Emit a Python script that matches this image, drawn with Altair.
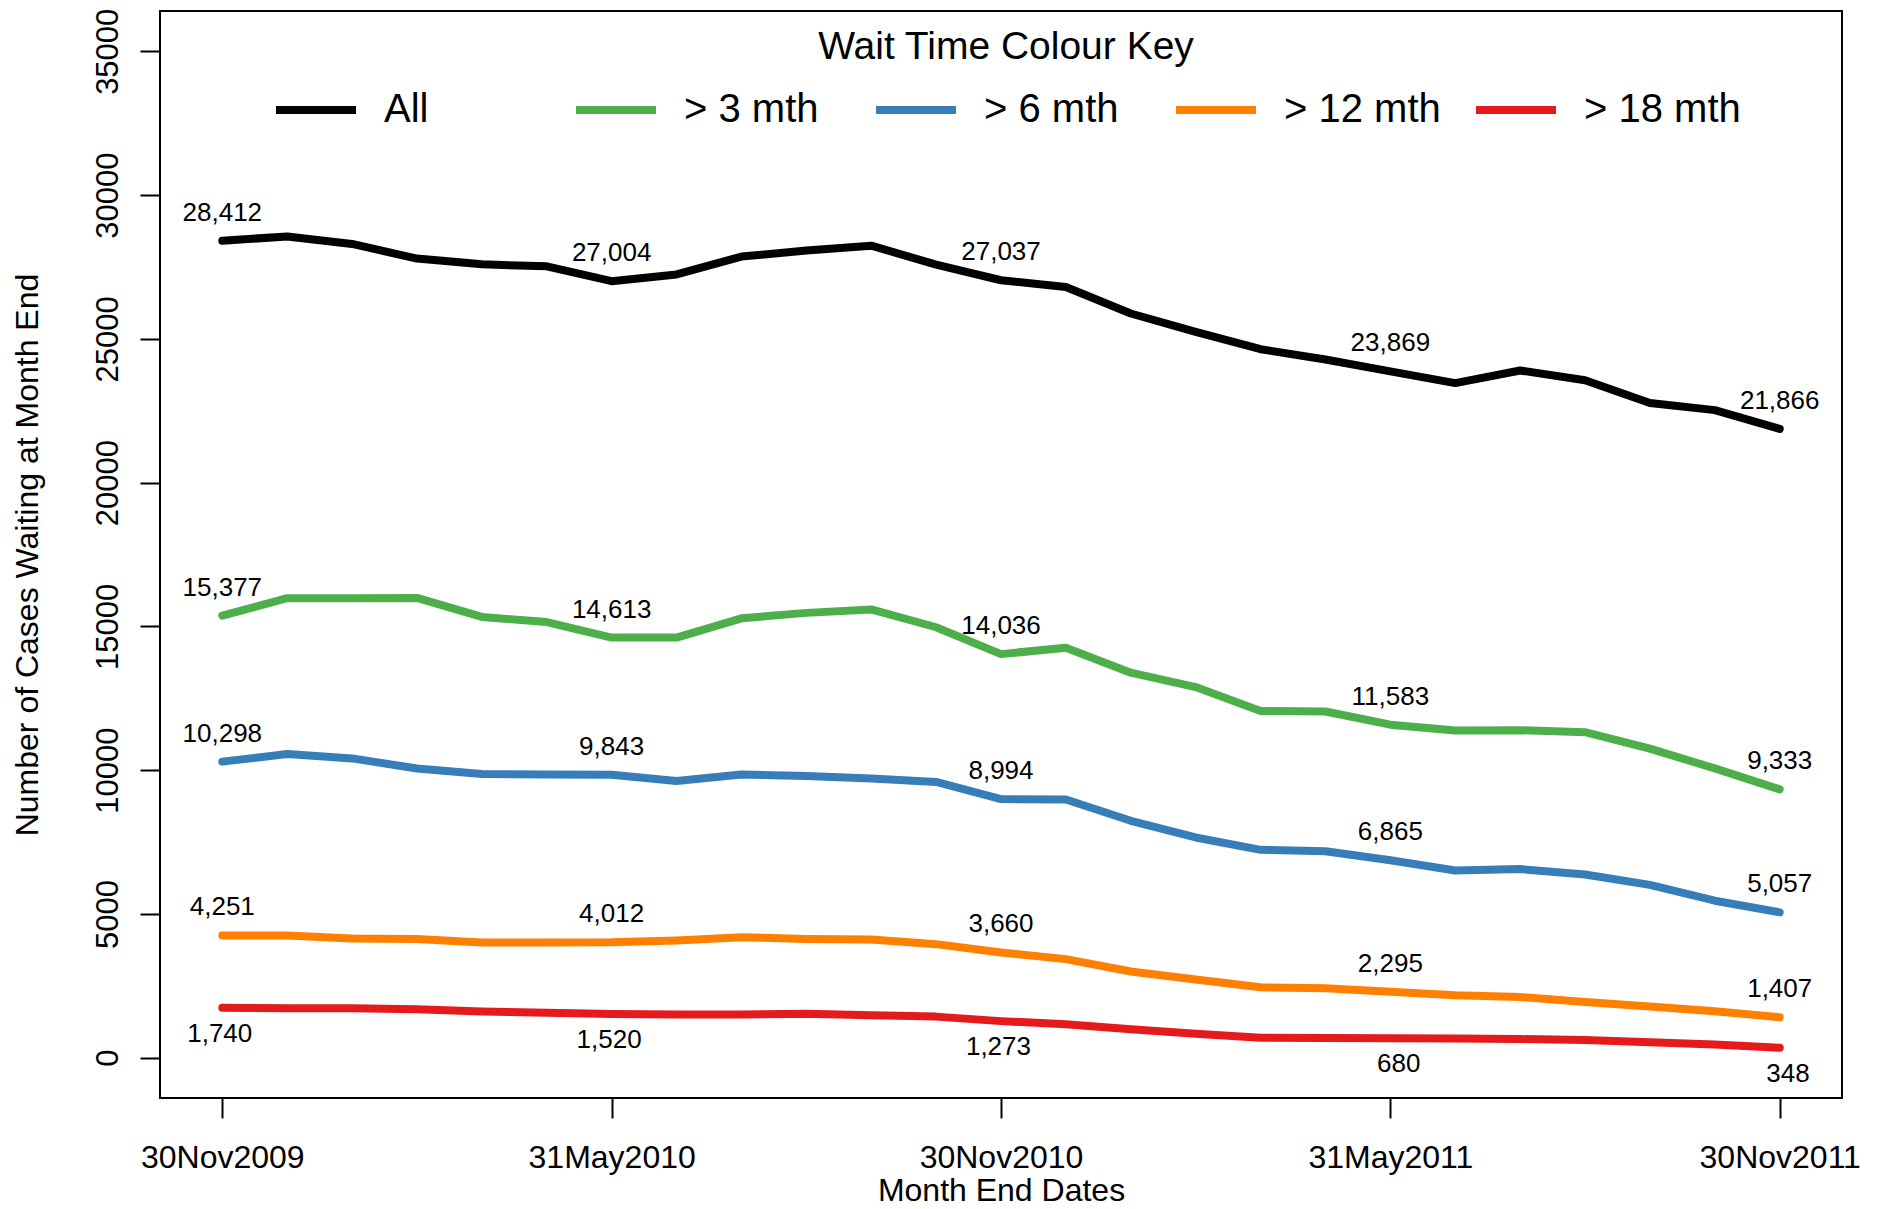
import altair as alt
import pandas as pd

# ---------------- data ----------------
month_ends = ["30Nov2009", "31Dec2009", "31Jan2010", "28Feb2010", "31Mar2010",
              "30Apr2010", "31May2010", "30Jun2010", "31Jul2010", "31Aug2010",
              "30Sep2010", "31Oct2010", "30Nov2010", "31Dec2010", "31Jan2011",
              "28Feb2011", "31Mar2011", "30Apr2011", "31May2011", "30Jun2011",
              "31Jul2011", "31Aug2011", "30Sep2011", "31Oct2011", "30Nov2011"]

series_names = ["All", "> 3 mth", "> 6 mth", "> 12 mth", "> 18 mth"]
series_colors = ["#000000", "#4DAF4A", "#377EB8", "#FF7F00", "#E41A1C"]

all_cases = [28412, 28560, 28300, 27790, 27590, 27520, 27004, 27240, 27860, 28070,
             28240, 27580, 27037, 26800, 25880, 25240, 24640, 24280, 23869, 23460,
             23900, 23560, 22770, 22520, 21866]
over_3 = [15377, 15980, 15980, 15990, 15330, 15150, 14613, 14610, 15280, 15470,
          15590, 14970, 14036, 14260, 13390, 12890, 12060, 12040, 11583, 11380,
          11390, 11320, 10750, 10060, 9333]
over_6 = [10298, 10560, 10410, 10060, 9870, 9850, 9843, 9620, 9850, 9800,
          9710, 9590, 8994, 8980, 8240, 7660, 7230, 7180, 6865, 6510,
          6560, 6370, 6010, 5460, 5057]
over_12 = [4251, 4250, 4150, 4130, 4010, 4010, 4012, 4080, 4190, 4130,
           4110, 3950, 3660, 3430, 3000, 2720, 2450, 2420, 2295, 2170,
           2110, 1940, 1780, 1620, 1407]
over_18 = [1740, 1720, 1720, 1690, 1610, 1565, 1520, 1500, 1500, 1530,
           1480, 1430, 1273, 1165, 990, 835, 695, 690, 680, 665,
           650, 615, 540, 460, 348]

series_values = [all_cases, over_3, over_6, over_12, over_18]
label_below = [False, False, False, False, True]

label_months = [0, 6, 12, 18, 24]
x_tick_labels = ["30Nov2009", "31May2010", "30Nov2010", "31May2011", "30Nov2011"]
y_ticks = [0, 5000, 10000, 15000, 20000, 25000, 30000, 35000]

# ---------------- tables ----------------
rows = []
for name, vals in zip(series_names, series_values):
    for i, v in enumerate(vals):
        rows.append({"month": i, "date": month_ends[i], "series": name, "cases": v})
df = pd.DataFrame(rows)

lab_rows = []
for name, vals, below in zip(series_names, series_values, label_below):
    for i in label_months:
        lab_rows.append({"month": i, "series": name, "cases": vals[i],
                         "label": f"{vals[i]:,}",
                         "pos": "below" if below else "above"})
df_lab = pd.DataFrame(lab_rows)

FONT = "Liberation Sans"

label_expr = " : ".join(
    f"datum.value == {m} ? '{t}'" for m, t in zip(label_months, x_tick_labels)
) + " : ''"

x_enc = alt.X(
    "month:Q",
    scale=alt.Scale(domain=[-0.96, 24.96], nice=False, zero=False),
    axis=alt.Axis(
        values=label_months, labelExpr=label_expr, grid=False, domain=False,
        tickSize=20, tickWidth=2, tickColor="black",
        labelFontSize=32, labelFont=FONT, labelColor="black",
        labelBaseline="alphabetic", labelPadding=49, labelFlush=False,
        labelOverlap=False, labelAlign="center",
        title="Month End Dates", titleFontSize=32, titleFont=FONT,
        titleFontWeight="normal", titleColor="black",
        titleBaseline="alphabetic", titleY=102,
    ),
)
y_enc = alt.Y(
    "cases:Q",
    scale=alt.Scale(domain=[-1400, 36400], nice=False, zero=False),
    axis=alt.Axis(
        values=y_ticks, format="d", grid=False, domain=False,
        tickSize=20, tickWidth=2, tickColor="black",
        labelFontSize=31, labelFont=FONT, labelColor="black",
        labelAngle=270, labelAlign="center", labelBaseline="alphabetic",
        labelPadding=23, labelFlush=False, labelOverlap=False,
        title="Number of Cases Waiting at Month End", titleFontSize=32,
        titleFont=FONT, titleFontWeight="normal", titleColor="black",
        titleAngle=270, titleAlign="center", titleBaseline="alphabetic",
        titleX=-123, titleY=543.5,
    ),
)

lines = alt.Chart(df).mark_line(
    strokeWidth=8, strokeCap="round", strokeJoin="round"
).encode(
    x=x_enc,
    y=y_enc,
    color=alt.Color(
        "series:N",
        sort=series_names,
        scale=alt.Scale(domain=series_names, range=series_colors),
        legend=alt.Legend(
            title="Wait Time Colour Key", orient="none", legendX=112, legendY=17,
            direction="horizontal", columns=5, gridAlign="all",
            symbolType="stroke", symbolSize=6400, symbolStrokeWidth=8,
            labelFontSize=40, labelFont=FONT, labelColor="black", labelOffset=24,
            labelLimit=0, columnPadding=19,
            titleFontSize=39, titleFont=FONT, titleFontWeight="normal",
            titleColor="black", titleAnchor="middle", titlePadding=-1,
            titleLimit=0, padding=0,
        ),
    ),
    detail="series:N",
)

above = alt.Chart(df_lab).transform_filter(alt.datum.pos == "above").mark_text(
    dy=-28, fontSize=26, font=FONT, color="black", baseline="middle", align="center"
).encode(x=x_enc, y=y_enc, text="label:N")

# below-labels: right-aligned at a common edge, like R's padded format()
below = alt.Chart(df_lab).transform_filter(alt.datum.pos == "below").mark_text(
    dy=26, dx=30, fontSize=26, font=FONT, color="black", baseline="middle", align="right"
).encode(x=x_enc, y=y_enc, text="label:N")

chart = alt.layer(lines, above, below).properties(
    width=1682, height=1087,
    autosize=alt.AutoSizeParams(type="none"),
    padding={"left": 152, "top": 3, "right": 30, "bottom": 112},
    background="white",
).configure_view(stroke="black", strokeWidth=2)

chart.save("out.html", embed_options={"renderer": "svg", "actions": False})
